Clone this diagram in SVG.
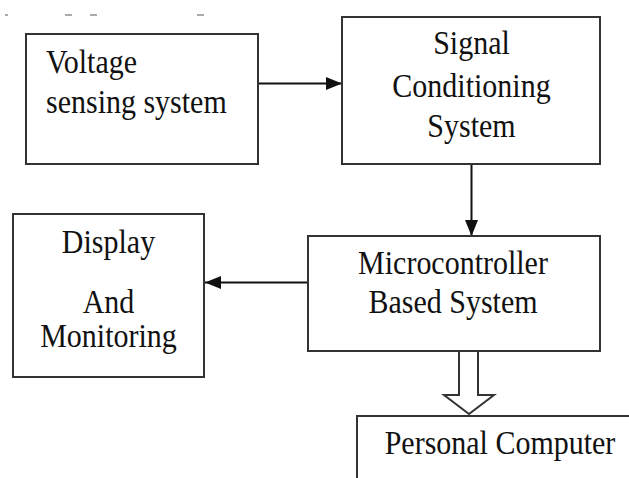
<svg xmlns="http://www.w3.org/2000/svg" width="629" height="478" viewBox="0 0 629 478">
<style>
.box{fill:#fff;stroke:#333;stroke-width:2}
.t{font-family:"Liberation Serif","Times New Roman",serif;font-size:30px;fill:#111}
.c{text-anchor:middle}
.ln{stroke:#111;stroke-width:2;fill:none}
.mark{stroke:#aaa;stroke-width:2}
</style>
<defs>
<marker id="ah" markerWidth="16" markerHeight="13" refX="16" refY="6.5" orient="auto" markerUnits="userSpaceOnUse">
<path d="M0,0 L16,6.5 L0,13 Z" fill="#111"/>
</marker>
</defs>
<rect width="629" height="478" fill="#fff"/>
<g id="marks">
<line class="mark" x1="5" y1="15" x2="8" y2="15"/>
<line class="mark" x1="65" y1="15" x2="72" y2="15"/>
<line class="mark" x1="90" y1="15" x2="97" y2="15"/>
<line class="mark" x1="197" y1="15" x2="204" y2="15"/>
</g>
<g id="connectors">
<line class="ln" x1="258" y1="83.5" x2="342" y2="83.5" marker-end="url(#ah)"/>
<line class="ln" x1="471.5" y1="156" x2="471.5" y2="236" marker-end="url(#ah)"/>
<line class="ln" x1="308" y1="282.5" x2="205" y2="282.5" marker-end="url(#ah)"/>
<path d="M459,351 L459,395 L444,395 L469,414 L494,395 L478,395 L478,351" fill="#fff" stroke="#333" stroke-width="2" stroke-linejoin="miter"/>
</g>
<g id="voltage">
<rect class="box" x="26" y="34" width="232" height="130"/>
<text class="t" transform="translate(46 72.5) scale(1 1.09)">Voltage</text>
<text class="t" transform="translate(46 112.5) scale(1 1.09)">sensing system</text>
</g>
<g id="signal">
<rect class="box" x="342" y="17" width="258" height="147"/>
<text class="t c" transform="translate(471.5 54) scale(1 1.09)">Signal</text>
<text class="t c" transform="translate(471.5 97) scale(1 1.09)">Conditioning</text>
<text class="t c" transform="translate(471.5 137) scale(1 1.09)">System</text>
</g>
<g id="display">
<rect class="box" x="13" y="214" width="191" height="163"/>
<text class="t c" transform="translate(108.5 252.5) scale(1 1.09)">Display</text>
<text class="t c" transform="translate(108.5 312.5) scale(1 1.09)">And</text>
<text class="t c" transform="translate(108.5 346.5) scale(1 1.09)">Monitoring</text>
</g>
<g id="micro">
<rect class="box" x="308" y="236" width="292" height="115"/>
<text class="t c" transform="translate(453 273.5) scale(1 1.09)">Microcontroller</text>
<text class="t c" transform="translate(453 312.5) scale(1 1.09)">Based System</text>
</g>
<g id="pc">
<rect class="box" x="357" y="416" width="300" height="100"/>
<text class="t c" transform="translate(500 453.5) scale(1 1.09)">Personal Computer</text>
</g>
</svg>
